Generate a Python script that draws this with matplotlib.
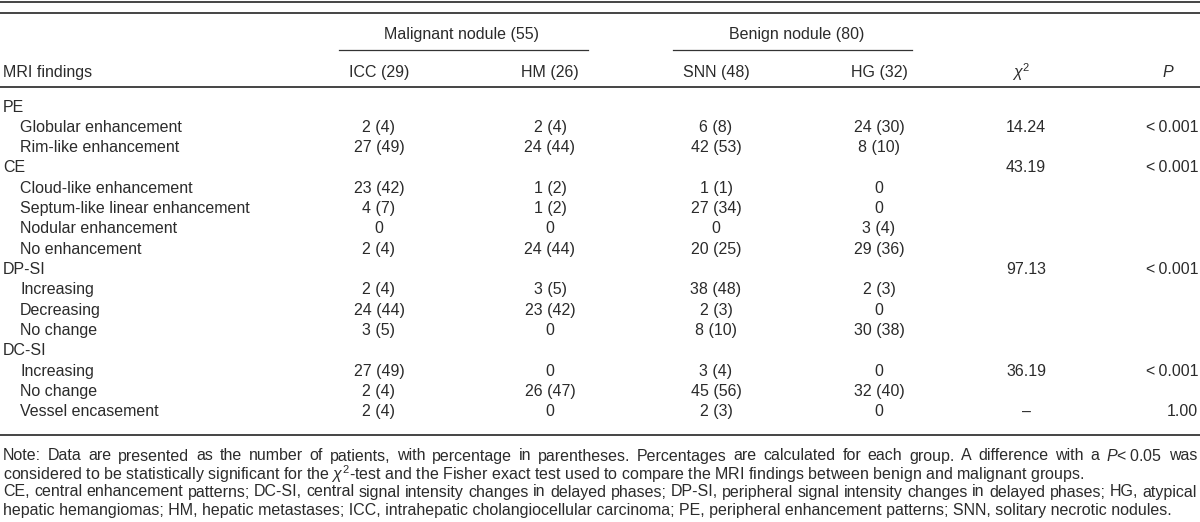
import matplotlib
matplotlib.use("Agg")
import matplotlib.pyplot as plt

plt.rcParams['font.family'] = ['Liberation Sans', 'DejaVu Sans']
plt.rcParams['mathtext.fontset'] = 'custom'
plt.rcParams['mathtext.rm'] = 'Liberation Sans'
plt.rcParams['mathtext.it'] = 'Liberation Sans:italic'

# Datos de la tabla
row_labels = ["PE", "Globular enhancement", "Rim-like enhancement",
              "CE", "Cloud-like enhancement", "Septum-like linear enhancement",
              "Nodular enhancement", "No enhancement",
              "DP-SI", "Increasing", "Decreasing", "No change",
              "DC-SI", "Increasing", "No change", "Vessel encasement"]
is_group = [True, False, False, True, False, False, False, False,
            True, False, False, False, True, False, False, False]

icc_n = [None, 2, 27, None, 23, 4, 0, 2, None, 2, 24, 3, None, 27, 2, 2]
icc_p = [None, 4, 49, None, 42, 7, 0, 4, None, 4, 44, 5, None, 49, 4, 4]
hm_n = [None, 2, 24, None, 1, 1, 0, 24, None, 3, 23, 0, None, 0, 26, 0]
hm_p = [None, 4, 44, None, 2, 2, 0, 44, None, 5, 42, 0, None, 0, 47, 0]
snn_n = [None, 6, 42, None, 1, 27, 0, 20, None, 38, 2, 8, None, 3, 45, 2]
snn_p = [None, 8, 53, None, 1, 34, 0, 25, None, 48, 3, 10, None, 4, 56, 3]
hg_n = [None, 24, 8, None, 0, 0, 3, 29, None, 2, 0, 30, None, 0, 32, 0]
hg_p = [None, 30, 10, None, 0, 0, 4, 36, None, 3, 0, 38, None, 0, 40, 0]

chi2 = ["", "14.24", "", "43.19", "", "", "", "", "97.13", "", "", "", "", "36.19", "", "\u2013"]
pvals = ["", "<\u20090.001", "", "<\u20090.001", "", "", "", "", "<\u20090.001", "", "", "", "",
         "<\u20090.001", "", "1.00"]

groups = ["Malignant nodule (55)", "Benign nodule (80)"]
col_heads = ["ICC (29)", "HM (26)", "SNN (48)", "HG (32)"]

notes = [
    "Note: Data are presented as the number of patients, with percentage in parentheses. Percentages are calculated for each group. A difference with a $P$<\u20090.05 was",
    r"considered to be statistically significant for the $\chi^2$-test and the Fisher exact test used to compare the MRI findings between benign and malignant groups.",
    "CE, central enhancement patterns; DC-SI, central signal intensity changes in delayed phases; DP-SI, peripheral signal intensity changes in delayed phases; HG, atypical",
    "hepatic hemangiomas; HM, hepatic metastases; ICC, intrahepatic cholangiocellular carcinoma; PE, peripheral enhancement patterns; SNN, solitary necrotic nodules.",
]
justified = [True, False, True, False]


def fmt(n, p):
    if n is None:
        return ""
    if n == 0:
        return "0"
    return f"{n} ({p})"


def texto_justificado(fig, ax, line, y, x0, x1, **kw):
    # Colocar palabra a palabra para justificar la línea
    words = line.split(' ')
    arts = [ax.text(x0, y, w, ha='left', va='center', **kw) for w in words]
    fig.canvas.draw()
    r = fig.canvas.get_renderer()
    inv = ax.transData.inverted()
    widths = []
    for a in arts:
        bb = a.get_window_extent(renderer=r)
        (xa, _), (xb, _) = inv.transform([(bb.x0, bb.y0), (bb.x1, bb.y0)])
        widths.append(xb - xa)
    gap = (x1 - x0 - sum(widths)) / (len(words) - 1)
    x = x0
    for a, w in zip(arts, widths):
        a.set_x(x)
        x += w + gap


def plot_table():
    fig = plt.figure(figsize=(12, 5.22), dpi=100)
    ax = fig.add_axes([0, 0, 1, 1])
    ax.set_xlim(0, 1200)
    ax.set_ylim(522, 0)
    ax.axis('off')

    tc = '#2b2b2b'
    fs = 11.5

    # Reglas horizontales
    for y in [2, 13, 87, 435]:
        ax.plot([0, 1200], [y, y], color='#444444', lw=1.4, solid_capstyle='butt')
    ax.plot([339, 588], [50, 50], color='#333333', lw=0.9)
    ax.plot([673, 912], [50, 50], color='#333333', lw=0.9)

    # Cabeceras
    ax.text(462, 35, groups[0], ha='center', va='center', fontsize=fs, color=tc)
    ax.text(797, 35, groups[1], ha='center', va='center', fontsize=fs, color=tc)

    col_x = [379, 550, 716, 879]
    ax.text(3, 72, "MRI findings", ha='left', va='center', fontsize=fs, color=tc)
    for x, h in zip(col_x, col_heads):
        ax.text(x, 72, h, ha='center', va='center', fontsize=fs, color=tc)
    ax.text(1021, 72, r"$\chi^2$", ha='center', va='center', fontsize=fs, color=tc)
    ax.text(1168, 72, r"$P$", ha='center', va='center', fontsize=fs, color=tc)

    # Filas
    y0, dy = 107, 20.33
    cols = [(icc_n, icc_p), (hm_n, hm_p), (snn_n, snn_p), (hg_n, hg_p)]
    for i, lab in enumerate(row_labels):
        y = y0 + i * dy
        x_lab = 3 if is_group[i] else 20
        ax.text(x_lab, y, lab, ha='left', va='center', fontsize=fs, color=tc)
        for x, (ns, ps) in zip(col_x, cols):
            ax.text(x, y, fmt(ns[i], ps[i]), ha='center', va='center', fontsize=fs, color=tc)
        if chi2[i]:
            ax.text(1026, y, chi2[i], ha='center', va='center', fontsize=fs, color=tc)
        if pvals[i]:
            ax.text(1198, y, pvals[i], ha='right', va='center', fontsize=fs, color=tc)

    # Notas
    for j, line in enumerate(notes):
        y = 456 + j * 18
        if justified[j]:
            texto_justificado(fig, ax, line, y, 3, 1197, fontsize=fs, color=tc)
        else:
            ax.text(3, y, line, ha='left', va='center', fontsize=fs, color=tc)

    fig.savefig('out.png', dpi=100)


if __name__ == "__main__":
    plot_table()
